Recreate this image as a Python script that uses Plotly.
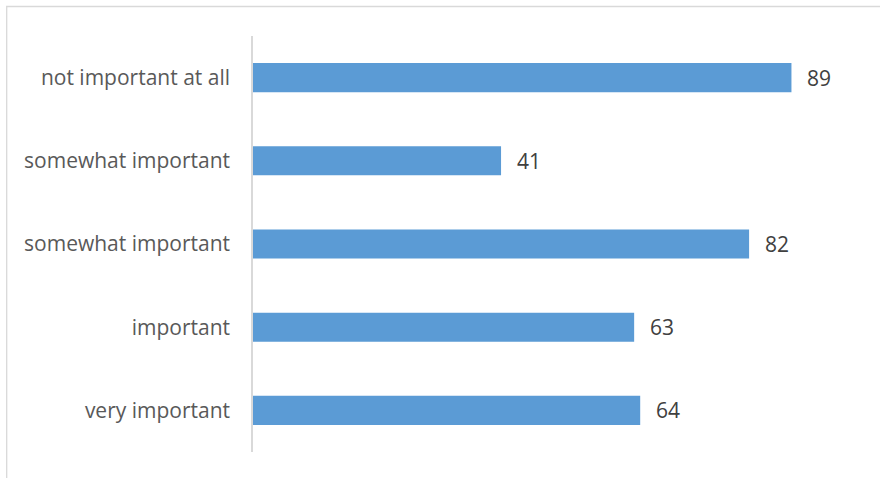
import plotly.graph_objects as go

# Survey responses, listed bottom to top
categories = ["very important", "important", "somewhat important",
              "somewhat important", "not important at all"]
values = [64, 63, 82, 41, 89]
positions = list(range(len(categories)))

BAR_COLOR = "#5B9BD5"
LABEL_COLOR = "#595959"
VALUE_COLOR = "#404040"
FONT = "Open Sans, Liberation Sans, sans-serif"

W, H = 880, 478
ml, mr, mt, mb = 253, 21.5, 36, 26
pw = W - ml - mr
ph = H - mt - mb

fig = go.Figure(go.Bar(
    x=values,
    y=positions,
    orientation="h",
    marker=dict(color=BAR_COLOR, line=dict(width=0)),
    width=0.35,
    hoverinfo="x+text",
    hovertext=categories,
))

# Value labels just past the end of each bar
for p, v in zip(positions, values):
    fig.add_annotation(
        x=v, y=p, text=str(v), showarrow=False,
        xanchor="left", yanchor="middle", xshift=14,
        font=dict(family=FONT, size=21, color=VALUE_COLOR),
    )

# Light frame around the chart area
fig.add_shape(
    type="rect", xref="paper", yref="paper",
    x0=(6.5 - ml) / pw, x1=(W + 5 - ml) / pw,
    y0=-(mb + 5) / ph, y1=1 + (mt - 6.5) / ph,
    line=dict(color="#D9D9D9", width=1.3), fillcolor="rgba(0,0,0,0)",
    layer="below",
)

fig.update_layout(
    width=W, height=H,
    margin=dict(l=ml, r=mr, t=mt, b=mb),
    paper_bgcolor="white", plot_bgcolor="white",
    showlegend=False,
    font=dict(family=FONT, size=21, color=LABEL_COLOR),
    xaxis=dict(range=[0, 100], visible=False, fixedrange=True),
    yaxis=dict(
        range=[-0.5, len(categories) - 0.5],
        tickvals=positions, ticktext=categories,
        showgrid=False, zeroline=False,
        showline=True, linecolor="#D9D9D9", linewidth=1.5,
        ticks="", ticklabelstandoff=17,
        tickfont=dict(family=FONT, size=21, color=LABEL_COLOR),
        fixedrange=True,
    ),
)

fig.write_html("out.html")
